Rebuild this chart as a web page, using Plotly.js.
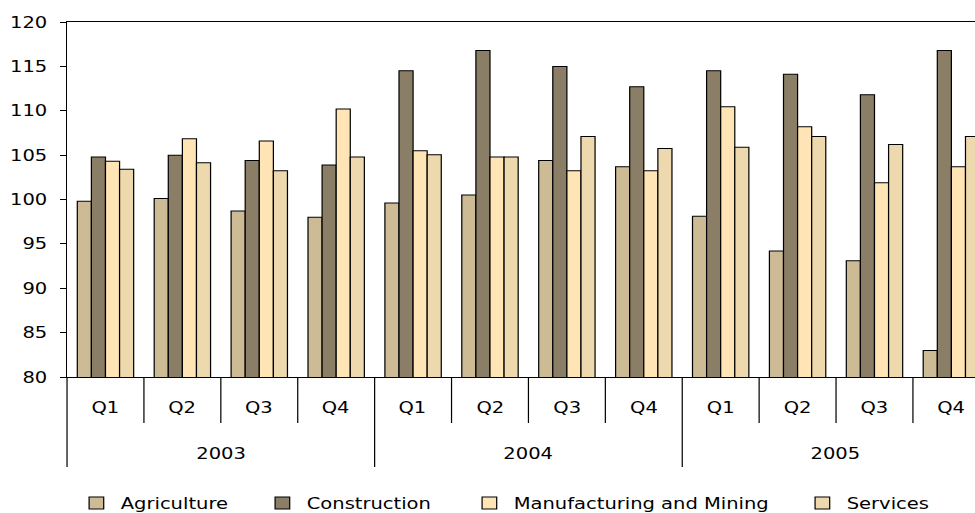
<!DOCTYPE html>
<html>
<head>
<meta charset="utf-8">
<script src="https://cdn.plot.ly/plotly-3.0.1.min.js"></script>
<style>
  html, body { margin: 0; padding: 0; background: #fff; overflow: hidden; width: 975px; height: 513px; }
  /* the chart is laid out 800px wide and widened to the 975px page */
  #chart { width: 800px; height: 513px; transform: scaleX(1.21875); transform-origin: 0 0; }
</style>
</head>
<body>
<div id="chart"></div>
<script>
// Quarterly output indices by sector, 2003-2005
const years = ['2003', '2003', '2003', '2003', '2004', '2004', '2004', '2004', '2005', '2005', '2005', '2005'];
const quarters = ['Q1', 'Q2', 'Q3', 'Q4', 'Q1', 'Q2', 'Q3', 'Q4', 'Q1', 'Q2', 'Q3', 'Q4'];
const yearLabels = ['2003', '2004', '2005'];

const agriculture   = [99.8, 100.1, 98.7, 98.0, 99.6, 100.5, 104.4, 103.7, 98.1, 94.2, 93.1, 83.0];
const construction  = [104.8, 105.0, 104.4, 103.9, 114.5, 116.8, 115.0, 112.7, 114.5, 114.1, 111.8, 116.8];
const manufacturing = [104.3, 106.85, 106.6, 110.2, 105.5, 104.8, 103.25, 103.25, 110.45, 108.2, 101.9, 103.7];
const services      = [103.4, 104.15, 103.25, 104.8, 105.05, 104.8, 107.1, 105.75, 105.9, 107.1, 106.2, 107.1];

const seriesNames = ['Agriculture', 'Construction', 'Manufacturing and Mining', 'Services'];
const seriesColors = ['#CDBB96', '#8B7E66', '#FFE5B5', '#EED8AE'];
const seriesValues = [agriculture, construction, manufacturing, services];

const periods = years.map((y, i) => y + ' ' + quarters[i]);

const family = 'DejaVu Sans, Verdana, sans-serif';
const font = { family: family, size: 16, color: '#000' };

// frame: horizontal stretch of the page, and plot edges in page pixels
const S = 1.21875;
const W = 800, H = 513;
const L = 67 / S, T = 22, B = 377;
const plotH = B - T;
const paperY = py => -(py - B) / plotH;

const legendIds = ['legend', 'legend2', 'legend3', 'legend4'];
const traces = seriesNames.map((name, k) => ({
  type: 'bar',
  name: name,
  x: periods,
  y: seriesValues[k],
  legend: legendIds[k],
  marker: { color: seriesColors[k], line: { color: '#000', width: 1 } },
  hoverinfo: 'skip'
}));

// quarter and year divider lines under the axis
const shapes = [];
const qBottom = paperY(423);
const yBottom = paperY(467);
for (let i = 0; i < periods.length - 1; i++) {
  const isYearBreak = years[i] !== years[i + 1];
  shapes.push({
    type: 'line', xref: 'x', yref: 'paper',
    x0: i + 0.5, x1: i + 0.5, y0: 0, y1: isYearBreak ? yBottom : qBottom,
    line: { color: '#000', width: 1 }
  });
}
shapes.push({
  type: 'line', xref: 'paper', yref: 'paper',
  x0: 0, x1: 0, y0: 0, y1: yBottom,
  line: { color: '#000', width: 1 }
});

// quarter labels and year labels
const annotations = [];
quarters.forEach((q, i) => {
  annotations.push({
    text: q, x: i, xref: 'x', y: paperY(408), yref: 'paper',
    showarrow: false, xanchor: 'center', yanchor: 'middle', font: font
  });
});
yearLabels.forEach(yr => {
  const idx = years.map((y, i) => y === yr ? i : -1).filter(i => i >= 0);
  const mid = (idx[0] + idx[idx.length - 1]) / 2;
  annotations.push({
    text: yr, x: mid, xref: 'x', y: paperY(453), yref: 'paper',
    showarrow: false, xanchor: 'center', yanchor: 'middle', font: font
  });
});

// one legend per series, laid out in a row below the axis (page pixels)
const legendLeft = [72, 258, 465, 798];
const layout = {
  width: W, height: H,
  margin: { l: L, r: 0, t: T, b: H - B, pad: 0, autoexpand: false },
  paper_bgcolor: '#fff', plot_bgcolor: '#fff',
  font: font,
  barmode: 'group',
  bargap: 0.267,
  bargroupgap: 0,
  xaxis: {
    type: 'category',
    categoryorder: 'array', categoryarray: periods,
    range: [-0.5, 11.307], autorange: false,
    showticklabels: false, ticks: '',
    showline: true, linecolor: '#000', linewidth: 1, mirror: true,
    showgrid: false, zeroline: false, fixedrange: true
  },
  yaxis: {
    range: [80, 120], autorange: false,
    dtick: 5, tick0: 80,
    ticks: 'outside', ticklen: 5, tickwidth: 1, tickcolor: '#000',
    ticklabelstandoff: 7,
    showline: true, linecolor: '#000', linewidth: 1,
    showgrid: false, zeroline: false, fixedrange: true,
    tickfont: font
  },
  shapes: shapes,
  annotations: annotations,
  showlegend: true
};
legendIds.forEach((id, k) => {
  layout[id] = {
    x: (legendLeft[k] - 67) / (975 - 67), xanchor: 'left',
    y: paperY(503), yanchor: 'middle',
    orientation: 'h',
    bgcolor: 'rgba(0,0,0,0)', borderwidth: 0,
    font: font
  };
});

Plotly.newPlot('chart', traces, layout, { displayModeBar: false, staticPlot: true });
</script>
</body>
</html>
